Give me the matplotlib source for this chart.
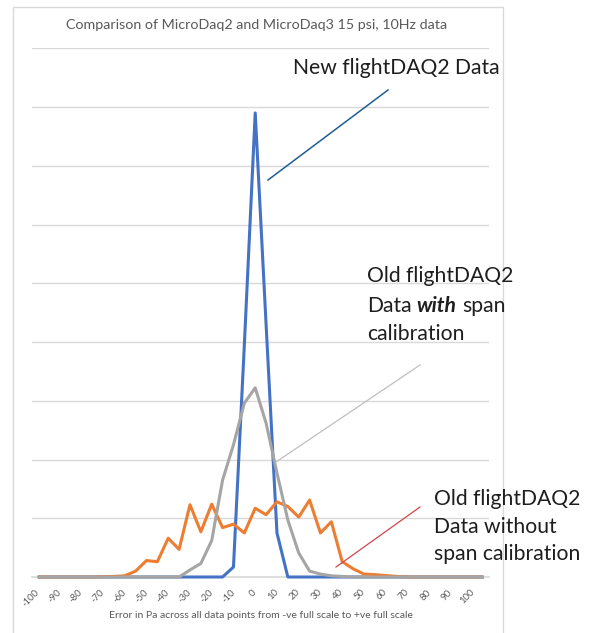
import numpy as np
import matplotlib
matplotlib.use("Agg")
import matplotlib.pyplot as plt
from matplotlib.patches import Rectangle
from matplotlib.lines import Line2D

# ---------------- data ----------------
categories = list(range(-100, 110, 5))   # 42 categories (-100 ... 105)
tick_labels = [str(v) for v in range(-100, 101, 10)]

# values listed from -100 to 105 in steps of 5
new_flightdaq2 = [0, 0, 0, 0, 0, 0, 0, 0, 0, 0,            # -100 .. -55
                  0, 0, 0, 0, 0, 0, 0, 0, 0.17, 3.95,      # -50 .. -5
                  7.9, 4.3, 0.75, 0, 0, 0, 0, 0, 0, 0,     # 0 .. 45
                  0, 0, 0, 0, 0, 0, 0, 0, 0, 0,            # 50 .. 95
                  0, 0]                                    # 100, 105

old_with_span = [0, 0, 0, 0, 0, 0, 0, 0, 0, 0,                       # -100 .. -55
                 0, 0, 0, 0, 0.12, 0.23, 0.62, 1.65, 2.25, 2.96,     # -50 .. -5
                 3.22, 2.62, 1.77, 0.97, 0.41, 0.1, 0.05, 0.02, 0.01, 0,  # 0 .. 45
                 0, 0, 0, 0, 0, 0, 0, 0, 0, 0,                       # 50 .. 95
                 0, 0]                                               # 100, 105

old_without_span = [0, 0, 0, 0, 0, 0, 0.005, 0.01, 0.02, 0.1,        # -100 .. -55
                    0.28, 0.26, 0.66, 0.47, 1.23, 0.77, 1.24, 0.84, 0.90, 0.75,  # -50 .. -5
                    1.17, 1.06, 1.28, 1.20, 1.02, 1.31, 0.75, 0.94, 0.26, 0.14,  # 0 .. 45
                    0.05, 0.04, 0.025, 0.01, 0, 0, 0, 0, 0, 0,       # 50 .. 95
                    0, 0]                                            # 100, 105

title = "Comparison of MicroDaq2 and MicroDaq3 15 psi, 10Hz data"
xlabel = "Error in Pa across all data points from -ve full scale to +ve full scale"

# ---------------- figure ----------------
W, H = 602, 633
plt.rcParams['font.family'] = ['Lato', 'DejaVu Sans']
fig = plt.figure(figsize=(W / 100, H / 100), dpi=100)
renderer = fig.canvas.get_renderer()


def fx(px):
    return px / W


def fy(py):
    return 1 - py / H


def fit_size(text, target_px, **kw):
    t = fig.text(0, 0, text, fontsize=10, **kw)
    w = t.get_window_extent(renderer).width
    t.remove()
    return 10 * target_px / w


# chart frame
fig.patches.append(Rectangle((fx(12.7), -0.05), fx(503.3 - 12.7), fy(6.7) + 0.05,
                             transform=fig.transFigure, fill=False,
                             ec='#D9D9D9', lw=1.0))

ax = fig.add_axes([fx(32.3), fy(577), fx(489 - 32.3), (577 - 48.3) / H])
x = np.arange(len(categories))
style = dict(lw=2.2, solid_joinstyle='round', solid_capstyle='butt', clip_on=False)
ax.plot(x, new_flightdaq2, color='#4472C4', zorder=3, **style)
ax.plot(x, old_without_span, color='#ED7D31', zorder=4, **style)
ax.plot(x, old_with_span, color='#A5A5A5', zorder=5, **style)

ax.set_xlim(-0.5, len(categories) - 0.5)
ax.set_ylim(0, 9)
ax.set_yticks(range(10))
ax.yaxis.grid(True, color='#D9D9D9', lw=1.0)
ax.set_axisbelow(True)
ax.tick_params(axis='y', left=False, labelleft=False)
for s in ['left', 'right', 'top']:
    ax.spines[s].set_visible(False)
ax.spines['bottom'].set_color('#D9D9D9')
ax.spines['bottom'].set_linewidth(1.2)
ax.set_xticks(x[:41:2])
ax.set_xticklabels(tick_labels, rotation=45, ha='right', va='center',
                   rotation_mode='anchor', fontsize=6.8, color='#595959')
ax.tick_params(axis='x', length=0, pad=10)

# title and axis label
fs_title = fit_size(title, 381)
fig.text(fx(257), fy(25), title, ha='center', va='center',
         fontsize=fs_title, color='#595959')
fs_xl = fit_size(xlabel, 303)
fig.text(fx(260.7), fy(616), xlabel, ha='center', va='center',
         fontsize=fs_xl, color='#595959')

# annotations
fs_ann = fit_size("New flightDAQ2 Data", 206)
tc = '#1E1E1E'
fig.text(fx(293), fy(74), "New flightDAQ2 Data", ha='left', va='baseline',
         fontsize=fs_ann, color=tc)

fig.text(fx(366.7), fy(282), "Old flightDAQ2", ha='left', va='baseline',
         fontsize=fs_ann, color=tc)


def width_of(s, **kw):
    t = fig.text(0, 0, s, fontsize=fs_ann, **kw)
    w = t.get_window_extent(renderer).width
    t.remove()
    return w


space = width_of("D D") - width_of("DD")
x0 = 366.7
t1 = fig.text(fx(x0), fy(311.7), "Data", ha='left', va='baseline',
              fontsize=fs_ann, color=tc)
w1 = t1.get_window_extent(renderer).width
x1 = x0 + w1 + space
t2 = fig.text(fx(x1), fy(311.7), "with", ha='left', va='baseline',
              fontsize=fs_ann, color=tc, fontweight='bold', fontstyle='italic')
w2 = t2.get_window_extent(renderer).width
x2 = x1 + w2 + space
fig.text(fx(x2), fy(311.7), "span", ha='left', va='baseline',
         fontsize=fs_ann, color=tc)
fig.text(fx(366.7), fy(340), "calibration", ha='left', va='baseline',
         fontsize=fs_ann, color=tc)

for txt, yy in [("Old flightDAQ2", 505), ("Data without", 532.7),
                ("span calibration", 560)]:
    fig.text(fx(434), fy(yy), txt, ha='left', va='baseline',
             fontsize=fs_ann, color=tc)

# leader lines
for (xa, ya, xb, yb, c, lw) in [(268, 180, 388, 90, '#1F5C99', 1.1),
                                 (276, 462, 420, 365, '#BFBFBF', 0.9),
                                 (336, 567, 420, 507, '#D0474D', 0.9)]:
    fig.lines.append(Line2D([fx(xa), fx(xb)], [fy(ya), fy(yb)],
                            transform=fig.transFigure, color=c, lw=lw, zorder=10))

fig.savefig('out.png', dpi=100)
